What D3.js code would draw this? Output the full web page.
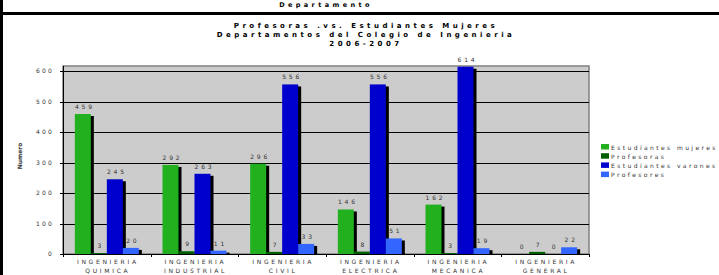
<!DOCTYPE html>
<html lang="es">
<head>
<meta charset="UTF-8" />
<title>Profesoras vs Estudiantes Mujeres</title>
<script src="https://d3js.org/d3.v7.min.js"></script>
<style>
  body { margin: 0; background: #fff; }
  svg { display: block; font-family: "DejaVu Sans", Verdana, sans-serif; }
</style>
</head>
<body>
<div id="chart"></div>
<script>
// datos
const categorias = [
  ['INGENIERIA', 'QUIMICA'],
  ['INGENIERIA', 'INDUSTRIAL'],
  ['INGENIERIA', 'CIVIL'],
  ['INGENIERIA', 'ELECTRICA'],
  ['INGENIERIA', 'MECANICA'],
  ['INGENIERIA', 'GENERAL']
];
const series = ['Estudiantes mujeres', 'Profesoras', 'Estudiantes varones', 'Profesores'];
const colores = ['#22b01e', '#006000', '#0000cc', '#3366ff'];
const estudiantesMujeres = [459, 292, 296, 146, 162, 0];
const profesoras = [3, 9, 7, 8, 3, 7];
const estudiantesVarones = [245, 263, 556, 556, 614, 0];
const profesores = [20, 11, 33, 51, 19, 22];
const valores = [estudiantesMujeres, profesoras, estudiantesVarones, profesores];
const yTicks = [0, 100, 200, 300, 400, 500, 600];
const titulo = ['Profesoras .vs. Estudiantes Mujeres', 'Departamentos del Colegio de Ingenieria', '2006-2007'];

const W = 719, H = 275;
const plot = { left: 63, right: 589, top: 66, bottom: 254 };

const svg = d3.select('#chart').append('svg').attr('width', W).attr('height', H);

// marco de arriba (otro grafico cortado)
svg.append('text').attr('x', 326).attr('y', 6.5).attr('text-anchor', 'middle')
  .attr('font-size', 6.5).attr('font-weight', 'bold').attr('letter-spacing', 3.4)
  .attr('fill', '#000').text('Departamento');
svg.append('rect').attr('x', 0).attr('y', 12).attr('width', W).attr('height', 3).attr('fill', '#000');
svg.append('rect').attr('x', 0).attr('y', 0).attr('width', 3).attr('height', H).attr('fill', '#000');

// titulo
titulo.forEach((t, i) => {
  svg.append('text').attr('x', 366).attr('y', 28 + i * 9).attr('text-anchor', 'middle')
    .attr('font-size', 7).attr('font-weight', 'bold').attr('letter-spacing', 3.5)
    .attr('fill', '#000').text(t);
});

const x0 = d3.scaleBand().domain(d3.range(categorias.length))
  .range([plot.left, plot.right]).paddingInner(0.27).paddingOuter(0.135);
const x1 = d3.scaleBand().domain(d3.range(series.length)).range([0, x0.bandwidth()]);
const y = d3.scaleLinear().domain([0, 600]).range([plot.bottom, 71]);
const step = (plot.right - plot.left) / categorias.length;

// area del grafico
svg.append('rect').attr('x', plot.left).attr('y', plot.top)
  .attr('width', plot.right - plot.left).attr('height', plot.bottom - plot.top)
  .attr('fill', '#cccccc').attr('stroke', '#808080').attr('stroke-width', 1.5);

svg.append('g').selectAll('line').data(yTicks.slice(1)).join('line')
  .attr('x1', plot.left).attr('x2', plot.right)
  .attr('y1', d => Math.round(y(d)) + 0.5).attr('y2', d => Math.round(y(d)) + 0.5)
  .attr('stroke', '#000').attr('stroke-width', 1);

// barras con sombra
const g = svg.append('g');
categorias.forEach((c, ci) => {
  series.forEach((s, si) => {
    const v = valores[si][ci];
    const bx = x0(ci) + x1(si), bw = x1.bandwidth();
    if (v > 0) {
      g.append('rect').attr('x', bx + 3).attr('y', y(v) + 2)
        .attr('width', bw).attr('height', plot.bottom - y(v) - 2).attr('fill', '#000');
      g.append('rect').attr('x', bx).attr('y', y(v))
        .attr('width', bw).attr('height', plot.bottom - y(v)).attr('fill', colores[si]);
    }
  });
});
categorias.forEach((c, ci) => {
  series.forEach((s, si) => {
    const v = valores[si][ci];
    const bx = x0(ci) + x1(si), bw = x1.bandwidth();
    g.append('text').attr('x', bx + bw / 2 + 2).attr('y', y(v) - 5)
      .attr('text-anchor', 'middle').attr('font-size', 6).attr('letter-spacing', 2.8)
      .attr('fill', '#333').text(v);
  });
});

// ejes
svg.append('line').attr('x1', plot.left + 0.5).attr('x2', plot.left + 0.5)
  .attr('y1', plot.top).attr('y2', plot.bottom).attr('stroke', '#000');
svg.append('line').attr('x1', plot.left).attr('x2', plot.right)
  .attr('y1', plot.bottom + 0.5).attr('y2', plot.bottom + 0.5).attr('stroke', '#000');

const yAxis = svg.append('g');
yTicks.forEach(t => {
  yAxis.append('line').attr('x1', plot.left - 3).attr('x2', plot.left)
    .attr('y1', Math.round(y(t)) + 0.5).attr('y2', Math.round(y(t)) + 0.5).attr('stroke', '#000');
  yAxis.append('text').attr('x', 54).attr('y', y(t) + 2).attr('text-anchor', 'end')
    .attr('font-size', 6).attr('letter-spacing', 2.2).attr('fill', '#333').text(t);
});
svg.append('text').attr('transform', 'translate(22,156) rotate(-90)').attr('text-anchor', 'middle')
  .attr('font-size', 6).attr('font-weight', 'bold').attr('fill', '#333').text('Numero');

const xAxis = svg.append('g');
d3.range(categorias.length + 1).forEach(i => {
  const tx = Math.round(plot.left + i * step) + 0.5;
  xAxis.append('line').attr('x1', tx).attr('x2', tx)
    .attr('y1', plot.bottom).attr('y2', plot.bottom + 3).attr('stroke', '#000');
});
categorias.forEach((c, ci) => {
  const cx = x0(ci) + x0.bandwidth() / 2 + 1;
  c.forEach((t, li) => {
    xAxis.append('text').attr('x', cx).attr('y', 264 + li * 9).attr('text-anchor', 'middle')
      .attr('font-size', 6).attr('letter-spacing', 2.7).attr('fill', '#333').text(t);
  });
});

// leyenda
const leg = svg.append('g');
series.forEach((s, i) => {
  leg.append('rect').attr('x', 601).attr('y', 144 + i * 9.2).attr('width', 8).attr('height', 5.5)
    .attr('fill', colores[i]);
  leg.append('text').attr('x', 611).attr('y', 149.5 + i * 9.2)
    .attr('font-size', 6).attr('letter-spacing', 2.4).attr('fill', '#333').text(s);
});
</script>
</body>
</html>
